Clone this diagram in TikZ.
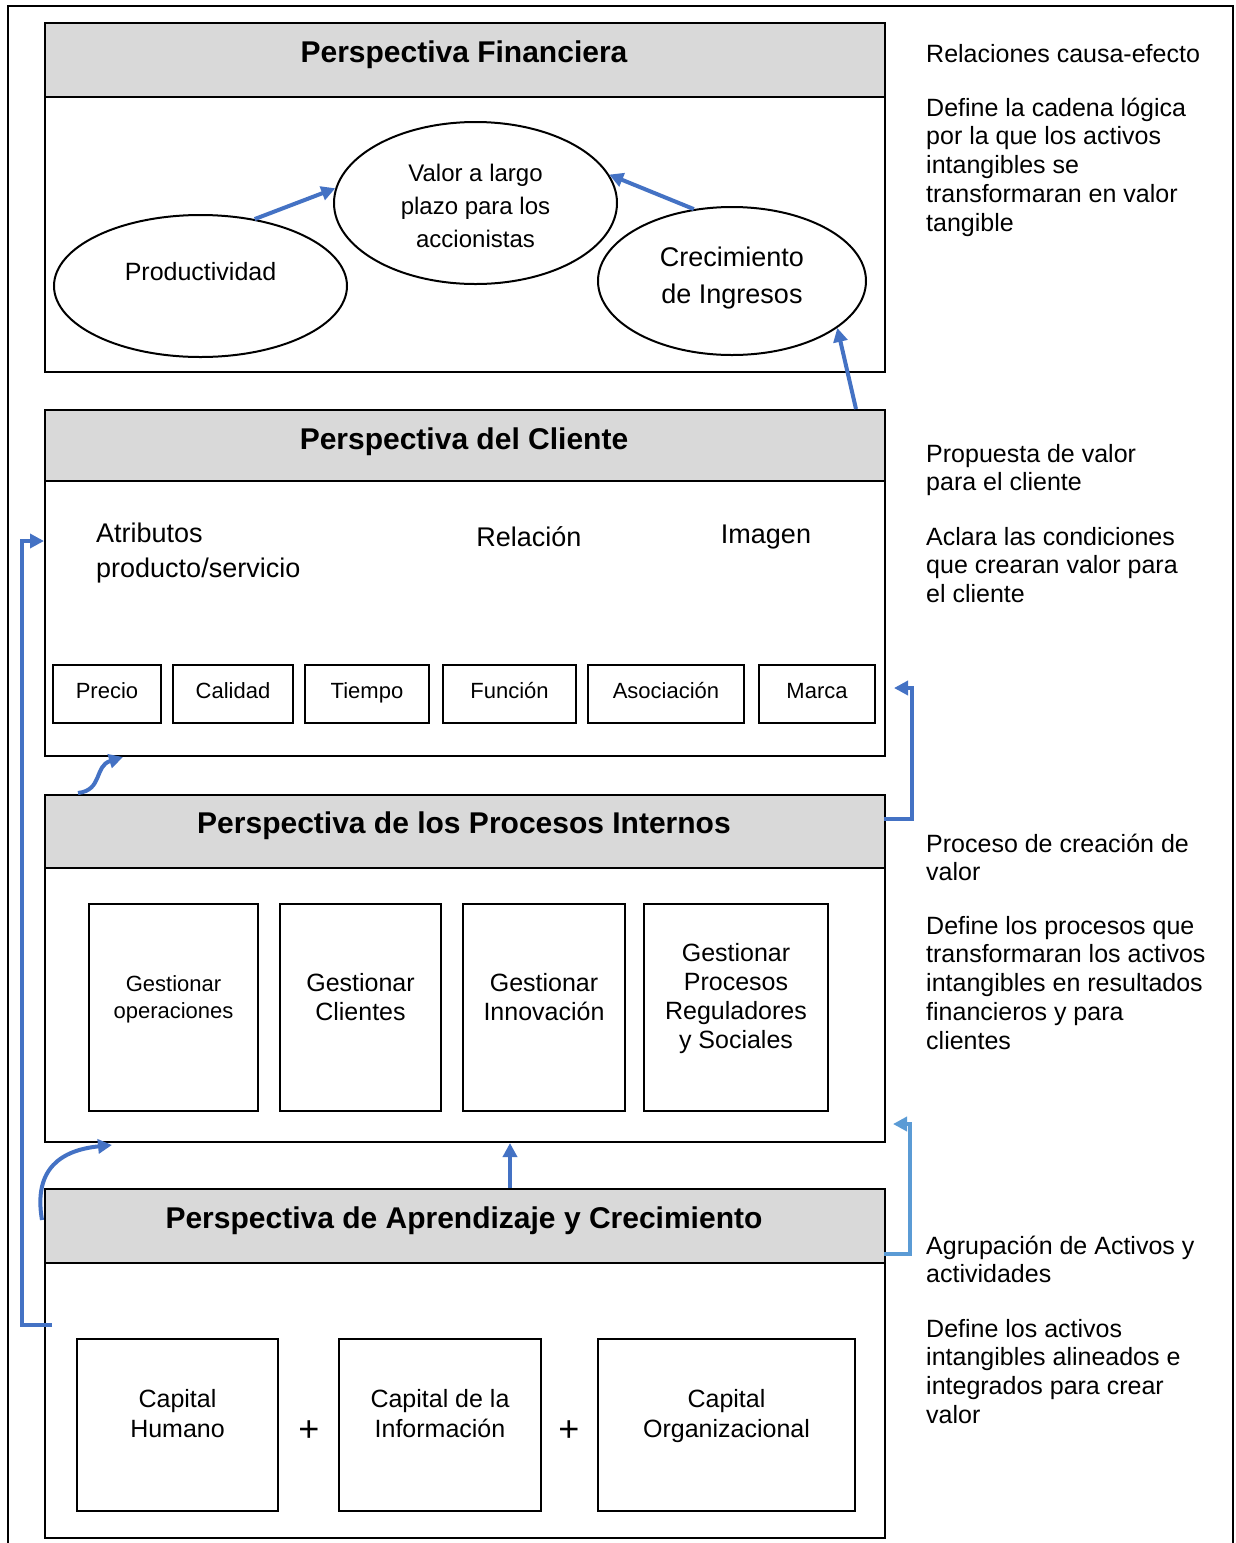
\documentclass[tikz,border=0pt]{standalone}
\usepackage{fontspec}
\setmainfont{Liberation Sans}
\usetikzlibrary{shapes.geometric,arrows.meta,calc}
\definecolor{hdrgray}{HTML}{D9D9D9}
\definecolor{arrblue}{HTML}{4472C4}
\definecolor{arrlight}{HTML}{5B9BD5}
\newcommand{\stackL}[1]{\begin{tabular}[t]{@{}l@{}}#1\end{tabular}}
\newcommand{\stackC}[1]{\begin{tabular}[t]{@{}c@{}}#1\end{tabular}}

\begin{document}
\begin{tikzpicture}[x=1pt,y=-1pt,
  panelhead/.style={draw, line width=2pt, fill=hdrgray, anchor=north west, inner sep=0,
    minimum width=840pt, minimum height=#1},
  panelbody/.style={draw, line width=2pt, fill=white, anchor=north west, inner sep=0,
    minimum width=840pt, minimum height=#1},
  title/.style={anchor=base, inner sep=0, font=\fontsize{30}{34}\selectfont\bfseries},
  oval/.style={draw, line width=2pt, ellipse, inner sep=0},
  sbox/.style={draw, line width=2pt, inner sep=0, text height=13pt, text depth=5pt,
    font=\fontsize{22}{26}\selectfont},
  bigbox/.style={draw, line width=2pt, inner sep=0},
  boxtext/.style={inner sep=0, anchor=base, font=\fontsize{25}{29}\selectfont},
  side/.style={anchor=base west, inner sep=0, font=\fontsize{25}{28.8}\selectfont},
  txt/.style={inner sep=0, font=\fontsize{25}{29}\selectfont},
  flow/.style={draw=arrblue, line width=4pt, -{Triangle[length=14pt,width=14pt]}},
  flowlight/.style={draw=arrlight, line width=4pt, -{Triangle[length=14pt,width=14pt]}}
]
\useasboundingbox (0,0) rectangle (1235,1543);

% outer frame (open at the bottom)
\draw[line width=2pt] (8,1543) -- (8,6) -- (1233,6) -- (1233,1543);

% ---------- Perspectiva Financiera ----------
\node[panelbody=275pt] (finbody) at (44,96) {};
\node[panelhead=74pt] (finhead) at (44,22) {};
\node[title] (fintitle) at (464,62) {Perspectiva Financiera};

\node[oval, minimum width=293pt, minimum height=142pt] (prod) at (200.5,286) {};
\node[txt, anchor=base] (prodtxt) at (200.5,280) {Productividad};
\node[oval, minimum width=283pt, minimum height=162pt] (valor) at (475.5,203) {};
\node[inner sep=0, anchor=base, font=\fontsize{24}{33}\selectfont] (valortxt) at (475.5,181)
  {\stackC{Valor a largo\\plazo para los\\accionistas}};
\node[oval, minimum width=268pt, minimum height=148pt] (crec) at (732,281) {};
\node[inner sep=0, anchor=base, font=\fontsize{27}{37}\selectfont] (crectxt) at (732,266)
  {\stackC{Crecimiento\\de Ingresos}};

\draw[flow] (prod.51) -- (valor.174);
\draw[flow] (crec.118) -- (valor.12);

% ---------- Perspectiva del Cliente ----------
\node[panelbody=275pt] (clibody) at (44,480) {};
\node[panelhead=71pt] (clihead) at (44,409) {};
\node[title] (clititle) at (464,449) {Perspectiva del Cliente};

\node[inner sep=0, anchor=base west, font=\fontsize{27}{35}\selectfont] (atrib) at (96,542)
  {\stackL{Atributos\\producto/servicio}};
\node[inner sep=0, anchor=base, font=\fontsize{27}{35}\selectfont] (relac) at (529,546) {Relación};
\node[inner sep=0, anchor=base, font=\fontsize{27}{35}\selectfont] (imagen) at (766,543) {Imagen};

\node[sbox, minimum width=108pt, minimum height=58pt] (precio) at (107,694) {Precio};
\node[sbox, minimum width=120pt, minimum height=58pt] (calidad) at (233,694) {Calidad};
\node[sbox, minimum width=124pt, minimum height=58pt] (tiempo) at (367,694) {Tiempo};
\node[sbox, minimum width=133pt, minimum height=58pt] (funcion) at (509.5,694) {Función};
\node[sbox, minimum width=156pt, minimum height=58pt] (asoc) at (666,694) {Asociación};
\node[sbox, minimum width=116pt, minimum height=58pt] (marca) at (817,694) {Marca};

\draw[flow] ($(clihead.north east)+(-30,0)$) -- (crec.-24);

% ---------- Perspectiva de los Procesos Internos ----------
\node[panelbody=274pt] (probody) at (44,867) {};
\node[panelhead=73pt] (prohead) at (44,794) {};
\node[title] (protitle) at (464,833) {Perspectiva de los Procesos Internos};

\node[bigbox, minimum width=169pt, minimum height=207pt] (gop) at (173.5,1007.5) {};
\node[boxtext, font=\fontsize{22}{27}\selectfont] (goptxt) at (173.5,991) {\stackC{Gestionar\\operaciones}};
\node[bigbox, minimum width=161pt, minimum height=207pt] (gcl) at (360.5,1007.5) {};
\node[boxtext] (gcltxt) at (360.5,991) {\stackC{Gestionar\\Clientes}};
\node[bigbox, minimum width=162pt, minimum height=207pt] (gin) at (544,1007.5) {};
\node[boxtext] (gintxt) at (544,991) {\stackC{Gestionar\\Innovación}};
\node[bigbox, minimum width=184pt, minimum height=207pt] (gre) at (736,1007.5) {};
\node[boxtext] (gretxt) at (736,961) {\stackC{Gestionar\\Procesos\\Reguladores\\y Sociales}};

% ---------- Perspectiva de Aprendizaje y Crecimiento ----------
\node[panelbody=275pt] (aprbody) at (44,1262) {};
\node[panelhead=74pt] (aprhead) at (44,1188) {};
\node[title] (aprtitle) at (464,1228) {Perspectiva de Aprendizaje y Crecimiento};

\node[bigbox, minimum width=201pt, minimum height=172pt] (chum) at (177.5,1425) {};
\node[boxtext, font=\fontsize{25}{30}\selectfont] (chumtxt) at (177.5,1407) {\stackC{Capital\\Humano}};
\node[bigbox, minimum width=202pt, minimum height=172pt] (cinf) at (440,1425) {};
\node[boxtext, font=\fontsize{25}{30}\selectfont] (cinftxt) at (440,1407) {\stackC{Capital de la\\Información}};
\node[bigbox, minimum width=257pt, minimum height=172pt] (corg) at (726.5,1425) {};
\node[boxtext, font=\fontsize{25}{30}\selectfont] (corgtxt) at (726.5,1407) {\stackC{Capital\\Organizacional}};
\node[inner sep=0, font=\fontsize{36}{40}\selectfont] (plus1) at (309,1431) {+};
\node[inner sep=0, font=\fontsize{36}{40}\selectfont] (plus2) at (569,1431) {+};

% ---------- connectors between perspectives ----------
\coordinate (pstart) at (78,793);
\coordinate (cliin) at (123,757);
\draw[flow] (pstart) .. controls (103,790) and (94,766) .. (cliin);

\coordinate (astart) at (42,1220);
\coordinate (proin) at (112,1145);
\draw[flow] (astart) .. controls (33,1168) and (62,1150) .. (proin);

\coordinate (upfoot) at (510,1188);
\draw[flow] (upfoot) -- (upfoot |- probody.south);

\coordinate (lfoot) at (52,1325);
\coordinate (lhead) at (44,541);
\draw[flow] (lfoot) -- (22,1325) -- (22,541) -- (lhead);

\coordinate (r1foot) at (884,819);
\coordinate (r1head) at (894,688);
\draw[flow] (r1foot) -- (912,819) -- (912,688) -- (r1head);

\coordinate (r2foot) at (884,1254);
\coordinate (r2head) at (893,1124);
\draw[flowlight] (r2foot) -- (910,1254) -- (910,1124) -- (r2head);

% ---------- side notes ----------
\node[side] (n1) at (926,62) {Relaciones causa-efecto};
\node[side] (n2) at (926,116) {\stackL{Define la cadena lógica\\por la que los activos\\intangibles se\\transformaran en valor\\tangible}};
\node[side] (n3) at (926,462) {\stackL{Propuesta de valor\\para el cliente}};
\node[side] (n4) at (926,545) {\stackL{Aclara las condiciones\\que crearan valor para\\el cliente}};
\node[side] (n5) at (926,852) {\stackL{Proceso de creación de\\valor}};
\node[side] (n6) at (926,934) {\stackL{Define los procesos que\\transformaran los activos\\intangibles en resultados\\financieros y para\\clientes}};
\node[side] (n7) at (926,1254) {\stackL{Agrupación de Activos y\\actividades}};
\node[side] (n8) at (926,1337) {\stackL{Define los activos\\intangibles alineados e\\integrados para crear\\valor}};
\end{tikzpicture}
\end{document}
